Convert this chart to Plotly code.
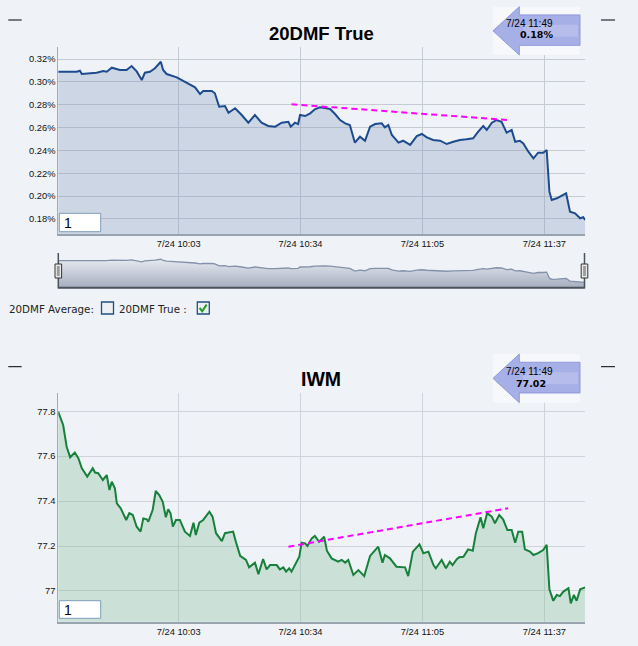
import plotly.graph_objects as go

W, H = 638, 646
BG = "#eff3f7"

# ---------------- data ----------------
tick_minutes = [33.0, 64.33, 95.67, 127.0]          # minutes after 9:30
tick_labels = ["7/24 10:03", "7/24 10:34", "7/24 11:05", "7/24 11:37"]

dmf_minutes = [2.0, 4.2, 6.8, 7.6, 8.1, 11.9, 13.6, 14.5, 15.8, 17.9, 19.6, 20.9, 22.2,
               23.5, 24.3, 25.6, 26.9, 28.4, 29.0, 29.9, 30.8, 32.5, 33.8, 35.5, 37.2,
               38.5, 39.3, 41.5, 42.3, 43.4, 44.9, 45.8, 46.6, 47.5, 49.2, 50.9, 52.6,
               54.3, 56.0, 57.8, 59.5, 61.2, 61.8, 62.9, 63.7, 64.2, 65.5, 66.8, 68.0,
               69.3, 70.6, 71.9, 73.2, 74.5, 75.8, 77.0, 78.3, 79.6, 80.9, 82.2, 83.5,
               85.2, 86.0, 86.9, 87.8, 89.5, 90.7, 92.5, 94.2, 95.5, 96.8, 98.4, 100.2,
               101.9, 103.6, 105.3, 107.0, 108.7, 110.0, 111.3, 112.2, 113.5, 114.7,
               116.0, 117.3, 118.6, 119.5, 120.7, 121.6, 122.9, 124.2, 125.4, 126.7,
               127.6, 128.3, 128.9, 130.2, 131.5, 132.6, 133.6, 134.9, 136.2, 137.0, 137.5]
dmf_values = [0.3089, 0.3086, 0.3089, 0.3098, 0.3069, 0.3080, 0.3095, 0.3089, 0.3124,
              0.3104, 0.3104, 0.3139, 0.3092, 0.3016, 0.3080, 0.3089, 0.3119, 0.3176,
              0.3104, 0.3069, 0.3060, 0.3040, 0.3016, 0.2981, 0.2952, 0.2894, 0.2920,
              0.2920, 0.2900, 0.2783, 0.2789, 0.2730, 0.2748, 0.2769, 0.2710, 0.2643,
              0.2710, 0.2643, 0.2614, 0.2608, 0.2643, 0.2651, 0.2608, 0.2643, 0.2631,
              0.2710, 0.2701, 0.2725, 0.2760, 0.2777, 0.2771, 0.2763, 0.2719, 0.2666,
              0.2637, 0.2623, 0.2468, 0.2520, 0.2485, 0.2608, 0.2631, 0.2637, 0.2602,
              0.2623, 0.2535, 0.2468, 0.2485, 0.2448, 0.2526, 0.2544, 0.2515, 0.2491,
              0.2485, 0.2456, 0.2476, 0.2491, 0.2497, 0.2506, 0.2564, 0.2614, 0.2579,
              0.2643, 0.2666, 0.2651, 0.2555, 0.2579, 0.2476, 0.2485, 0.2462, 0.2389,
              0.2331, 0.2380, 0.2380, 0.2404, 0.2039, 0.1966, 0.1981, 0.2001, 0.2025,
              0.1864, 0.1850, 0.1806, 0.1815, 0.1791]
dmf_trend_minutes = [62.0, 117.8]
dmf_trend_values = [0.2804, 0.2666]

iwm_minutes = [2.0, 3.3, 4.2, 5.1, 6.3, 7.2, 8.1, 9.5, 10.9, 11.5, 12.3, 13.5, 14.5, 15.2,
               15.8, 16.6, 17.1, 18.1, 19.5, 20.3, 21.2, 22.2, 23.2, 23.9, 24.8, 25.2,
               26.3, 27.1, 28.0, 28.9, 29.7, 30.3, 30.9, 31.5, 32.3, 33.3, 34.6, 35.9,
               36.8, 37.4, 38.3, 39.3, 40.9, 41.7, 42.6, 44.1, 44.9, 47.0, 47.7, 48.8,
               50.3, 51.1, 52.6, 53.5, 54.7, 55.6, 56.5, 58.2, 59.0, 59.9, 60.6, 61.4,
               62.0, 63.2, 64.0, 64.6, 65.5, 66.1, 67.2, 68.0, 69.1, 70.4, 71.1, 72.3,
               74.0, 74.9, 75.8, 76.6, 77.9, 79.2, 80.7, 82.2, 84.3, 85.4, 86.0, 87.3,
               89.0, 91.2, 92.0, 93.2, 94.9, 95.9, 97.2, 98.5, 99.1, 100.6, 101.7, 102.7,
               103.4, 104.5, 105.1, 106.2, 107.4, 108.6, 109.4, 110.6, 111.3, 112.3,
               113.5, 114.3, 115.4, 116.4, 117.5, 118.6, 119.5, 120.3, 121.3, 122.0,
               123.3, 124.2, 125.4, 126.7, 127.6, 128.3, 129.3, 130.2, 131.0, 131.9,
               133.2, 133.8, 134.6, 135.3, 136.2, 137.5]
iwm_values = [77.798, 77.739, 77.642, 77.595, 77.616, 77.591, 77.546, 77.509, 77.546,
              77.527, 77.524, 77.494, 77.516, 77.449, 77.486, 77.457, 77.390, 77.368,
              77.316, 77.346, 77.338, 77.286, 77.264, 77.323, 77.319, 77.308, 77.360,
              77.445, 77.427, 77.397, 77.328, 77.364, 77.346, 77.286, 77.316, 77.316,
              77.264, 77.245, 77.304, 77.249, 77.304, 77.316, 77.353, 77.331, 77.257,
              77.222, 77.257, 77.264, 77.219, 77.156, 77.138, 77.105, 77.126, 77.075,
              77.142, 77.096, 77.115, 77.115, 77.096, 77.105, 77.086, 77.101, 77.086,
              77.123, 77.152, 77.215, 77.212, 77.200, 77.234, 77.245, 77.219, 77.241,
              77.179, 77.145, 77.130, 77.138, 77.126, 77.138, 77.071, 77.093, 77.066,
              77.156, 77.197, 77.126, 77.160, 77.145, 77.108, 77.105, 77.066, 77.175,
              77.208, 77.168, 77.175, 77.115, 77.101, 77.138, 77.101, 77.130, 77.115,
              77.141, 77.150, 77.152, 77.185, 77.179, 77.257, 77.328, 77.279, 77.346,
              77.331, 77.301, 77.338, 77.319, 77.271, 77.271, 77.215, 77.264, 77.264,
              77.185, 77.175, 77.160, 77.168, 77.182, 77.205, 77.007, 76.956, 76.982,
              76.977, 76.997, 77.012, 76.945, 76.982, 76.956, 77.007, 77.016]
iwm_trend_minutes = [61.2, 117.7]
iwm_trend_values = [77.197, 77.368]

last_time = "7/24 11:49"
dmf_last_label = "0.18%"
iwm_last_label = "77.02"
dmf_title = "20DMF True"
iwm_title = "IWM"
legend_items = ["20DMF Average:", "20DMF True :"]


# ---------------- helpers (pixel -> paper) ----------------
def X(px):
    return px / W


def Y(py):
    return 1 - py / H


def path(points, close=True):
    s = "M " + " L ".join(f"{X(a):.5f},{Y(b):.5f}" for a, b in points)
    return s + (" Z" if close else "")


XR = [2.05, 137.53]
XDOM = [X(58.3), X(585.3)]

fig = go.Figure()

# top chart
fig.add_trace(go.Scatter(x=dmf_minutes, y=dmf_values, mode="lines", fill="tozeroy",
                         fillcolor="rgba(129,149,186,0.31)",
                         line=dict(color="#1d4b8f", width=2), xaxis="x", yaxis="y",
                         hoverinfo="skip"))
fig.add_trace(go.Scatter(x=dmf_trend_minutes, y=dmf_trend_values, mode="lines",
                         line=dict(color="#ff00ff", width=2, dash="6px,4px"),
                         xaxis="x", yaxis="y", hoverinfo="skip"))
# navigator
fig.add_trace(go.Scatter(x=dmf_minutes, y=dmf_values, mode="lines", fill="tozeroy",
                         fillgradient=dict(type="vertical", start=0.1465, stop=0.31,
                                           colorscale=[[0, "#a5aebf"], [1, "#e3e7ee"]]),
                         line=dict(color="#8491aa", width=1.3), xaxis="x2", yaxis="y2",
                         hoverinfo="skip"))
# bottom chart
fig.add_trace(go.Scatter(x=iwm_minutes, y=iwm_values, mode="lines", fill="tozeroy",
                         fillcolor="rgba(120,185,145,0.30)",
                         line=dict(color="#17803a", width=2), xaxis="x3", yaxis="y3",
                         hoverinfo="skip"))
fig.add_trace(go.Scatter(x=iwm_trend_minutes, y=iwm_trend_values, mode="lines",
                         line=dict(color="#ff00ff", width=2, dash="6px,4px"),
                         xaxis="x3", yaxis="y3", hoverinfo="skip"))

tickfont = dict(family="Liberation Sans", size=9.3, color="#111111")

xcommon = dict(range=XR, domain=XDOM, tickmode="array", tickvals=tick_minutes,
               ticktext=tick_labels, showgrid=True, gridwidth=1, zeroline=False,
               showline=True, linewidth=2, ticks="", tickfont=tickfont, fixedrange=True)

fig.update_layout(
    width=W, height=H, margin=dict(l=0, r=0, t=0, b=0), template="none",
    paper_bgcolor=BG, plot_bgcolor=BG, showlegend=False,
    font=dict(family="Liberation Sans", color="#111111"),
    xaxis=dict(anchor="y", gridcolor="#c6cbd3", linecolor="#98a2ae", **xcommon),
    yaxis=dict(anchor="x", domain=[Y(234.3), Y(46.7)], range=[0.1666, 0.3308],
               tickmode="linear", tick0=0.18, dtick=0.02, tickformat=".2f", ticksuffix="%",
               showgrid=True, gridcolor="#c6cbd3", zeroline=False, showline=True,
               linecolor="#a3acb6", linewidth=1, ticks="", tickfont=tickfont),
    xaxis2=dict(anchor="y2", range=XR, domain=XDOM, showgrid=False, zeroline=False,
                showticklabels=False, showline=False, ticks=""),
    yaxis2=dict(anchor="x2", domain=[Y(287.7), Y(253)], range=[0.1465, 0.3553],
                visible=False),
    xaxis3=dict(anchor="y3", gridcolor="#d0d4da", linecolor="#9aa4ae", **xcommon),
    yaxis3=dict(anchor="x3", domain=[Y(621.7), Y(393.3)], range=[76.863, 77.88],
                tickmode="linear", tick0=77, dtick=0.2,
                showgrid=True, gridcolor="#d0d4da", zeroline=False, showline=True,
                linecolor="#a3acb6", linewidth=1, ticks="", tickfont=tickfont),
)

shapes = []
for yy in (20, 366.7):
    for x0, x1 in ((8.3, 21.7), (601, 615)):
        shapes.append(dict(type="line", xref="paper", yref="paper",
                           x0=X(x0), x1=X(x1), y0=Y(yy), y1=Y(yy),
                           line=dict(color="#000000", width=1)))
for y0, y1 in ((213.3, 231.7), (600.7, 618.3)):
    shapes.append(dict(type="rect", xref="paper", yref="paper",
                       x0=X(59.3), x1=X(100.7), y0=Y(y1), y1=Y(y0),
                       fillcolor="#ffffff", line=dict(color="#7f9db9", width=1),
                       layer="above"))
for top, bot in ((6.7, 55.0), (354.0, 402.7)):
    mid = (top + bot) / 2
    h = bot - top
    st, sb = top + h * 0.17, bot - h * 0.20
    shapes.append(dict(type="rect", xref="paper", yref="paper",
                       x0=X(492.7), x1=X(580), y0=Y(bot), y1=Y(top),
                       fillcolor="#f6f8fb", line=dict(color="#f6f8fb", width=0.1),
                       layer="above"))
    shapes.append(dict(type="path", xref="paper", yref="paper",
                       path=path([(493, mid), (519.3, top), (519.3, st), (580, st),
                                  (580, sb), (519.3, sb), (519.3, bot)]),
                       fillcolor="#a6afe6", line=dict(color="#8e99dc", width=1),
                       layer="above"))
    shapes.append(dict(type="rect", xref="paper", yref="paper",
                       x0=X(523), x1=X(578), y0=Y(mid + 6), y1=Y(mid - 6),
                       fillcolor="rgba(255,255,255,0.18)",
                       line=dict(color="rgba(255,255,255,0)", width=0.1),
                       layer="above"))
shapes.append(dict(type="line", xref="paper", yref="paper",
                   x0=X(58.3), x1=X(584.5), y0=Y(287.7), y1=Y(287.7),
                   line=dict(color="#4a525c", width=2)))
for xx in (58.3, 584.5):
    shapes.append(dict(type="line", xref="paper", yref="paper",
                       x0=X(xx), x1=X(xx), y0=Y(288.5), y1=Y(253),
                       line=dict(color="#4a525c", width=1.5)))
    shapes.append(dict(type="rect", xref="paper", yref="paper",
                       x0=X(xx - 3.3), x1=X(xx + 3.3), y0=Y(278), y1=Y(264),
                       fillcolor="#ececec", line=dict(color="#333333", width=1),
                       layer="above"))
    shapes.append(dict(type="rect", xref="paper", yref="paper",
                       x0=X(xx - 1.4), x1=X(xx + 1.4), y0=Y(276), y1=Y(266),
                       fillcolor="#9c9c9c", line=dict(color="#9c9c9c", width=0.1),
                       layer="above"))
for x0 in (101.5, 197.3):
    shapes.append(dict(type="rect", xref="paper", yref="paper",
                       x0=X(x0), x1=X(x0 + 12), y0=Y(314), y1=Y(302),
                       fillcolor="#eceff3", line=dict(color="#1f4f85", width=1.3)))
shapes.append(dict(type="path", xref="paper", yref="paper",
                   path=path([(199.6, 307.8), (202.2, 311.2), (206.6, 304.6)], close=False),
                   line=dict(color="#22a022", width=2)))

annotations = [
    dict(text=f"<b>{dmf_title}</b>", x=X(321.5), y=Y(33), showarrow=False,
         xref="paper", yref="paper", xanchor="center", yanchor="middle",
         font=dict(family="Liberation Sans", size=18.5, color="#000000")),
    dict(text=f"<b>{iwm_title}</b>", x=X(321), y=Y(379), showarrow=False,
         xref="paper", yref="paper", xanchor="center", yanchor="middle",
         font=dict(family="Liberation Sans", size=19.5, color="#000000")),
]
for ty, vy, label, vx in ((23.3, 35.0, dmf_last_label, 536.5),
                          (371.7, 383.3, iwm_last_label, 531.0)):
    annotations.append(dict(text=last_time, x=X(529.2), y=Y(ty), showarrow=False,
                            xref="paper", yref="paper", xanchor="center", yanchor="middle",
                            font=dict(family="Liberation Sans", size=10, color="#000000")))
    annotations.append(dict(text=f"<b>{label}</b>", x=X(vx), y=Y(vy), showarrow=False,
                            xref="paper", yref="paper", xanchor="center", yanchor="middle",
                            font=dict(family="DejaVu Sans", size=9.5, color="#000000")))
for yy in (222.5, 609.5):
    annotations.append(dict(text="1", x=X(61.5), y=Y(yy), showarrow=False,
                            xref="paper", yref="paper", xanchor="left", yanchor="middle",
                            font=dict(family="Liberation Sans", size=14, color="#000000")))
annotations.append(dict(text=legend_items[0], x=X(6.5), y=Y(308.5), showarrow=False,
                        xref="paper", yref="paper", xanchor="left", yanchor="middle",
                        font=dict(family="DejaVu Sans", size=10.3, color="#222222")))
annotations.append(dict(text=legend_items[1], x=X(116.5), y=Y(308.5), showarrow=False,
                        xref="paper", yref="paper", xanchor="left", yanchor="middle",
                        font=dict(family="DejaVu Sans", size=10.3, color="#222222")))

fig.update_layout(shapes=shapes, annotations=annotations)
fig.write_html("out.html", config={"displayModeBar": False},
               post_script="document.body.style.margin='0';")
